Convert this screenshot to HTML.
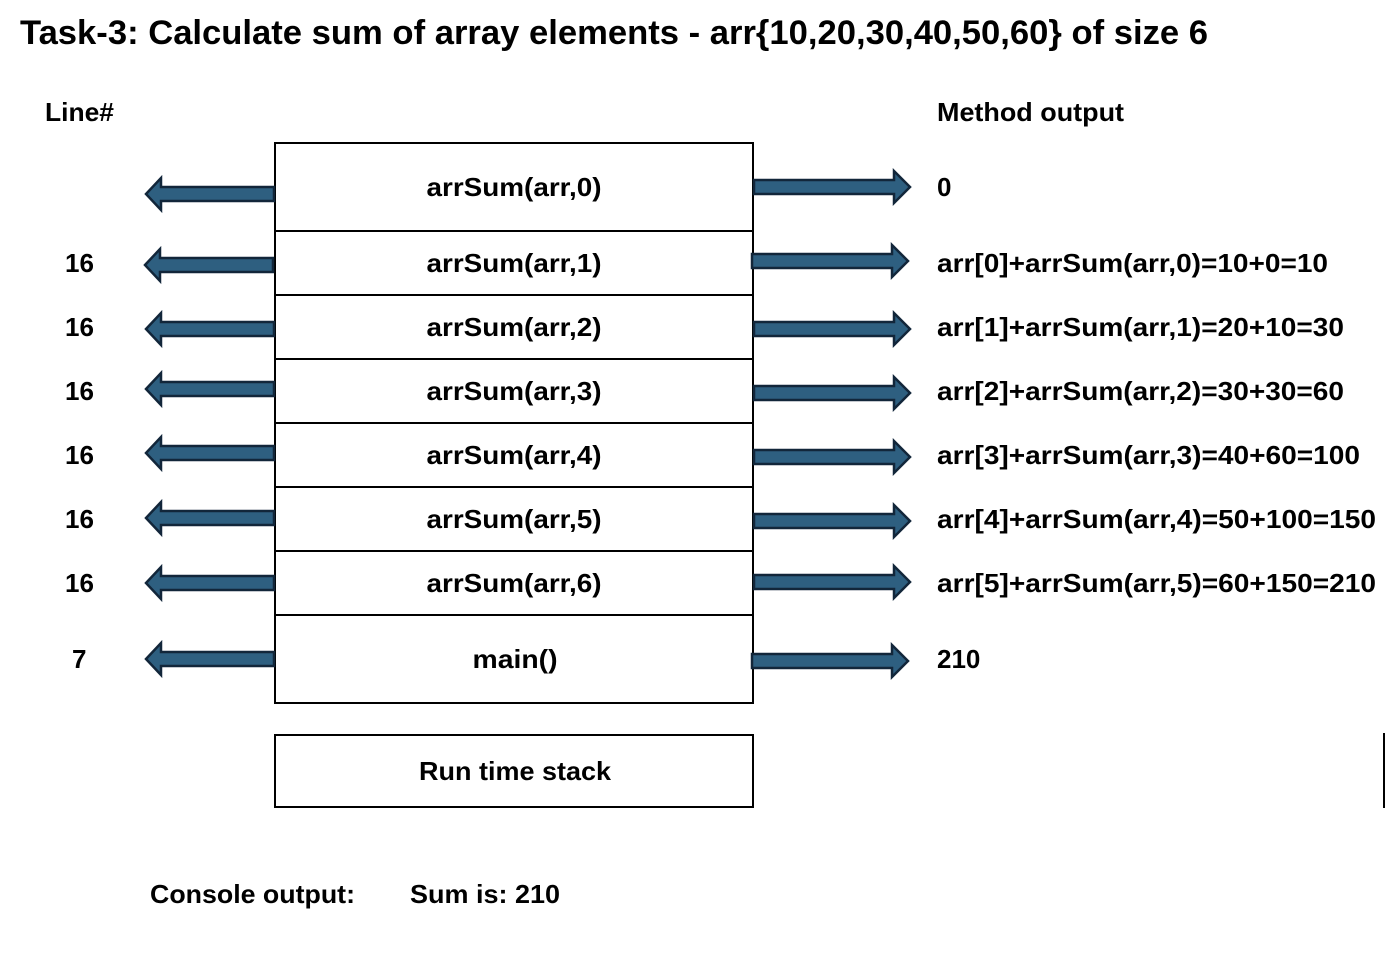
<!DOCTYPE html>
<html><head><style>
html,body{margin:0;padding:0;background:#fff;}
svg{display:block;}
text{font-family:"Liberation Sans",sans-serif;font-weight:bold;fill:#000;}
</style></head><body>
<svg width="1386" height="954" viewBox="0 0 1386 954" xmlns="http://www.w3.org/2000/svg">
<defs>
<g id="la"><polygon points="0,0 15,-16 15,-7 128,-7 128,7 15,7 15,16" fill="#2e5f80" stroke="#12263a" stroke-width="2.5"/></g>
<g id="ra"><polygon points="0,-7 140,-7 140,-16 156,0 140,16 140,7 0,7" fill="#2e5f80" stroke="#12263a" stroke-width="2.5"/></g>
</defs>
<text x="20" y="44" font-size="34" textLength="1188" lengthAdjust="spacingAndGlyphs">Task-3: Calculate sum of array elements - arr{10,20,30,40,50,60} of size 6</text>
<text x="45" y="121" font-size="26" textLength="69" lengthAdjust="spacingAndGlyphs">Line#</text>
<text x="937" y="121" font-size="26" textLength="187" lengthAdjust="spacingAndGlyphs">Method output</text>

<rect x="275" y="143" width="478" height="560" fill="#fff" stroke="#000" stroke-width="2"/>
<g stroke="#000" stroke-width="2">
<line x1="275" y1="231" x2="753" y2="231"/><line x1="275" y1="295" x2="753" y2="295"/>
<line x1="275" y1="359" x2="753" y2="359"/><line x1="275" y1="423" x2="753" y2="423"/>
<line x1="275" y1="487" x2="753" y2="487"/><line x1="275" y1="551" x2="753" y2="551"/>
<line x1="275" y1="615" x2="753" y2="615"/>
</g>
<g font-size="26" text-anchor="middle" lengthAdjust="spacingAndGlyphs">
<text x="514" y="196" textLength="175" lengthAdjust="spacingAndGlyphs">arrSum(arr,0)</text>
<text x="514" y="272" textLength="175" lengthAdjust="spacingAndGlyphs">arrSum(arr,1)</text>
<text x="514" y="336" textLength="175" lengthAdjust="spacingAndGlyphs">arrSum(arr,2)</text>
<text x="514" y="400" textLength="175" lengthAdjust="spacingAndGlyphs">arrSum(arr,3)</text>
<text x="514" y="464" textLength="175" lengthAdjust="spacingAndGlyphs">arrSum(arr,4)</text>
<text x="514" y="528" textLength="175" lengthAdjust="spacingAndGlyphs">arrSum(arr,5)</text>
<text x="514" y="592" textLength="175" lengthAdjust="spacingAndGlyphs">arrSum(arr,6)</text>
<text x="515" y="668" textLength="85" lengthAdjust="spacingAndGlyphs">main()</text>
</g>
<rect x="275" y="735" width="478" height="72" fill="#fff" stroke="#000" stroke-width="2"/>
<text x="515" y="780" font-size="26" text-anchor="middle" textLength="192" lengthAdjust="spacingAndGlyphs">Run time stack</text>
<line x1="1384" y1="733" x2="1384" y2="808" stroke="#000" stroke-width="2"/>

<use href="#la" x="146" y="194"/>
<use href="#la" x="145" y="265"/>
<use href="#la" x="146" y="329"/>
<use href="#la" x="146" y="389"/>
<use href="#la" x="146" y="453"/>
<use href="#la" x="146" y="518"/>
<use href="#la" x="146" y="583"/>
<use href="#la" x="146" y="659"/>

<use href="#ra" x="754" y="187"/>
<use href="#ra" x="752" y="261"/>
<use href="#ra" x="754" y="329"/>
<use href="#ra" x="754" y="393"/>
<use href="#ra" x="754" y="457"/>
<use href="#ra" x="754" y="521"/>
<use href="#ra" x="754" y="582"/>
<use href="#ra" x="752" y="661"/>

<g font-size="26">
<text x="65" y="272">16</text>
<text x="65" y="336">16</text>
<text x="65" y="400">16</text>
<text x="65" y="464">16</text>
<text x="65" y="528">16</text>
<text x="65" y="592">16</text>
<text x="72" y="668">7</text>
<text x="937" y="196">0</text>
<text x="937" y="272" textLength="391" lengthAdjust="spacingAndGlyphs">arr[0]+arrSum(arr,0)=10+0=10</text>
<text x="937" y="336" textLength="407" lengthAdjust="spacingAndGlyphs">arr[1]+arrSum(arr,1)=20+10=30</text>
<text x="937" y="400" textLength="407" lengthAdjust="spacingAndGlyphs">arr[2]+arrSum(arr,2)=30+30=60</text>
<text x="937" y="464" textLength="423" lengthAdjust="spacingAndGlyphs">arr[3]+arrSum(arr,3)=40+60=100</text>
<text x="937" y="528" textLength="439" lengthAdjust="spacingAndGlyphs">arr[4]+arrSum(arr,4)=50+100=150</text>
<text x="937" y="592" textLength="439" lengthAdjust="spacingAndGlyphs">arr[5]+arrSum(arr,5)=60+150=210</text>
<text x="937" y="668">210</text>
<text x="150" y="903" textLength="205" lengthAdjust="spacingAndGlyphs">Console output:</text>
<text x="410" y="903" textLength="150" lengthAdjust="spacingAndGlyphs">Sum is: 210</text>
</g>
</svg>
</body></html>
